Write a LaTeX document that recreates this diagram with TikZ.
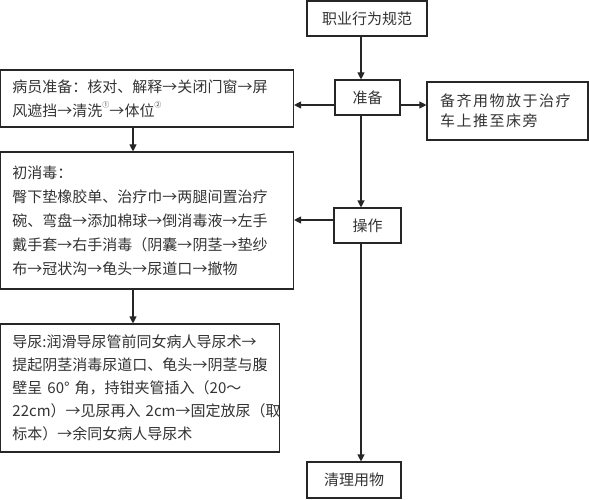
\documentclass[tikz,border=0pt]{standalone}
\usepackage{fontspec}
\setmainfont{Noto Sans CJK SC}
\newfontfamily\widefont[LetterSpace=10]{Noto Sans CJK SC}
\usetikzlibrary{arrows.meta,calc}
\newcommand{\supmark}[1]{\raisebox{0.55em}{\fontsize{7}{7}\selectfont #1}}
\begin{document}
\begin{tikzpicture}[x=1pt,y=-1pt,
  boxline/.style={draw=black!85,line width=1.1pt,rectangle,inner sep=0pt},
  label/.style={boxline,text=black!80,font=\fontsize{15}{18}\selectfont,align=center},
  para/.style={boxline,text=black!80,align=left,inner xsep=12pt,inner ysep=0pt},
  arr/.style={draw=black!85,line width=1.1pt,-{Triangle[length=7pt,width=7pt]}}]
\useasboundingbox (0,0) rectangle (589,500);
% boxes
\node[label,minimum width=120pt,minimum height=35pt] (top) at (367,18.5) {职业行为规范};
\node[label,minimum width=65pt,minimum height=35pt] (prep) at (367.5,97.5) {准备};
\node[para,inner xsep=13pt,text width=135pt,minimum width=161pt,minimum height=58pt,
      font=\widefont\fontsize{15}{20}\selectfont] (side) at (507.5,111)
  {备齐用物放于治疗\\车上推至床旁};
\node[para,text width=269pt,minimum width=293pt,minimum height=57pt,
      font=\fontsize{15}{24}\selectfont] (pat) at (147,98.5)
  {病员准备：核对、解释→关闭门窗→屏\\风遮挡→清洗\supmark{①}→体位\supmark{②}};
\node[para,text width=269pt,minimum width=293pt,minimum height=137pt,
      font=\fontsize{15}{24}\selectfont] (disinf) at (147,220.5)
  {初消毒：\\臀下垫橡胶单、治疗巾→两腿间置治疗\\碗、弯盘→添加棉球→倒消毒液→左手\\戴手套→右手消毒（阴囊→阴茎→垫纱\\布→冠状沟→龟头→尿道口→撤物};
\node[label,minimum width=67pt,minimum height=35pt] (oper) at (367.5,225.5) {操作};
\node[para,text width=255pt,minimum width=279pt,minimum height=128pt,
      font=\fontsize{15}{23}\selectfont] (cath) at (140,388)
  {\mbox{导尿:润滑导尿管前同女病人导尿术→}\\\mbox{提起阴茎消毒尿道口、龟头→阴茎与腹}\\\mbox{壁呈 60° 角，持钳夹管插入（20～}\\\mbox{22cm）→见尿再入 2cm→固定放尿（取}\\\mbox{标本）→余同女病人导尿术}};
\node[label,minimum width=94pt,minimum height=36pt] (clean) at (354,480) {清理用物};
% guide coordinates
\coordinate (spine) at (361,0);
\coordinate (leftcol) at (133,0);
\coordinate (rowprep) at (0,105);
\coordinate (rowoper) at (0,220);
% connectors
\draw[arr] (top.south -| spine) -- (prep.north -| spine);
\draw[arr] (prep.south -| spine) -- (oper.north -| spine);
\draw[arr] (oper.south -| spine) -- (clean.north -| spine);
\draw[arr] (prep.west |- rowprep) -- (pat.east |- rowprep);
\draw[arr] (prep.east |- rowprep) -- (side.west |- rowprep);
\draw[arr] (pat.south -| leftcol) -- (disinf.north -| leftcol);
\draw[arr] (oper.west |- rowoper) -- (disinf.east |- rowoper);
\draw[arr] (disinf.south -| leftcol) -- (cath.north -| leftcol);
\end{tikzpicture}
\end{document}
